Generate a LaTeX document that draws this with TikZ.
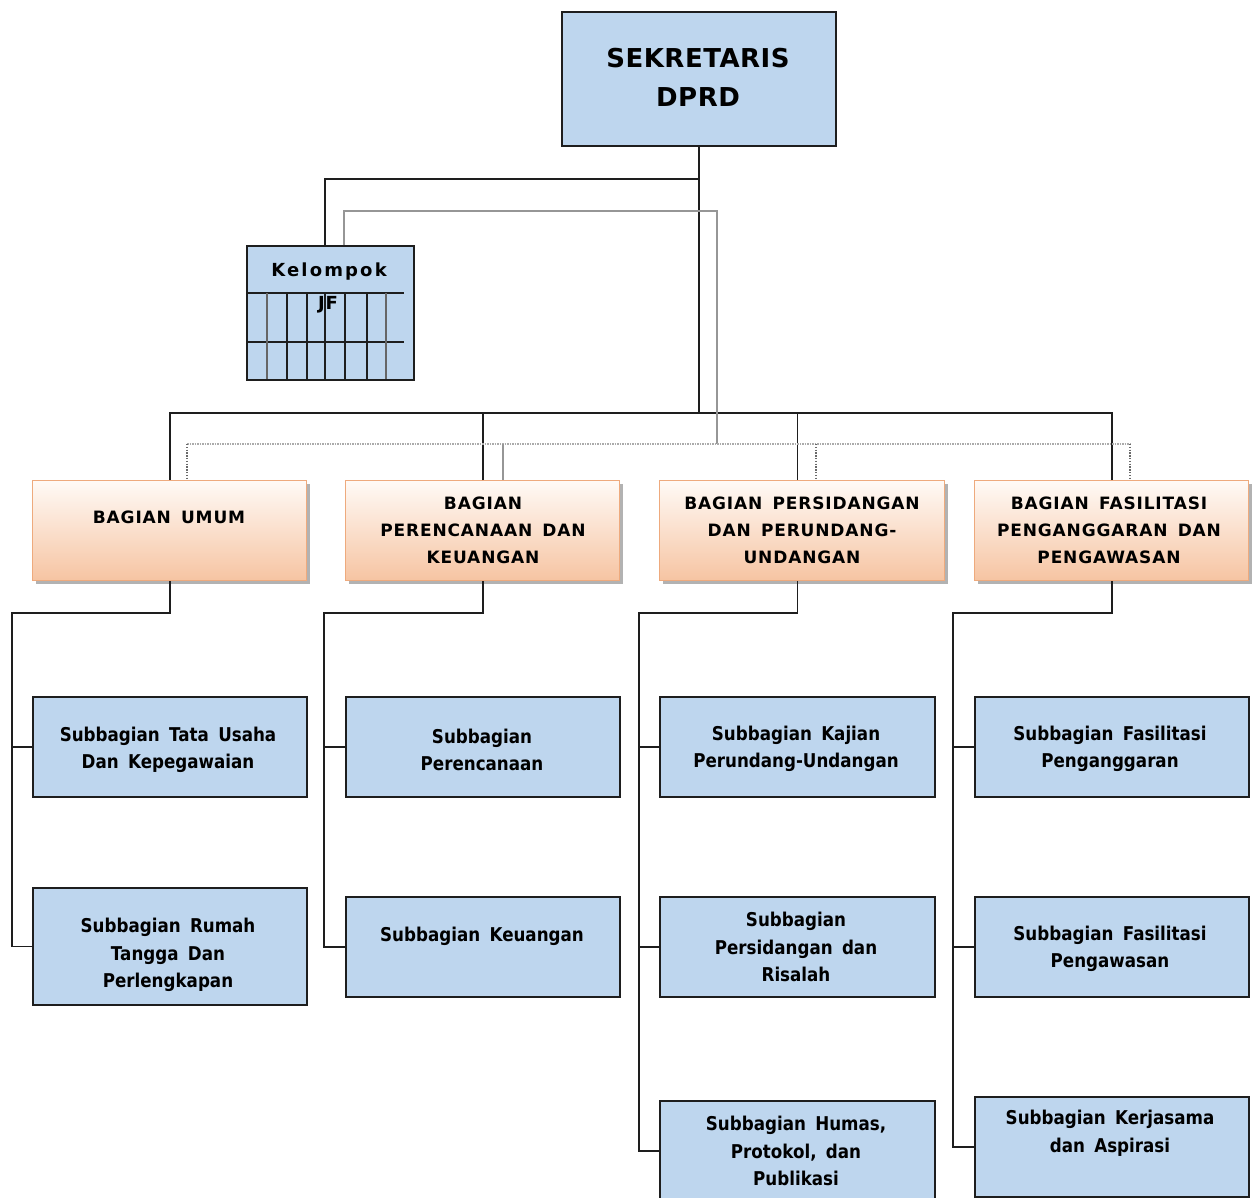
\documentclass[tikz,border=0pt]{standalone}
\usepackage{fontspec}
\setmainfont{DejaVu Sans}
\newfontfamily\headfont[LetterSpace=2]{DejaVu Sans}
\newfontfamily\bagfont[LetterSpace=5,WordSpace=1.5]{DejaVu Sans}
\newfontfamily\jffont[LetterSpace=12]{DejaVu Sans}
\newfontfamily\jfsmall[LetterSpace=4]{DejaVu Sans}
\newfontfamily\subfont[FakeStretch=0.88,WordSpace=1.6]{DejaVu Sans}
\usetikzlibrary{shadows}

\definecolor{boxblue}{RGB}{190,214,238}
\definecolor{peachtop}{RGB}{255,250,246}
\definecolor{peachbot}{RGB}{246,196,162}
\definecolor{peachline}{RGB}{238,170,125}
\definecolor{linedark}{RGB}{30,30,30}
\definecolor{linegray}{RGB}{150,150,150}

\begin{document}
\begin{tikzpicture}[x=1pt,y=-1pt,
  bluebox/.style={draw=linedark, line width=1.6pt, fill=boxblue, inner sep=0pt,
    anchor=north west, minimum width=274pt, minimum height=100pt},
  bagbox/.style={draw=peachline, line width=1.4pt, top color=peachtop,
    bottom color=peachbot, inner sep=0pt, anchor=north west,
    minimum width=274pt, minimum height=100pt,
    drop shadow={shadow xshift=3pt, shadow yshift=-3pt, fill=black!50, opacity=0.6}},
  sektxt/.style={font=\headfont\bfseries\fontsize{26}{39}\selectfont, align=center, inner sep=0pt},
  bagtxt/.style={font=\bagfont\bfseries\fontsize{17}{27}\selectfont, align=center, inner sep=0pt},
  jftxt/.style={font=\jffont\bfseries\fontsize{18}{20}\selectfont, inner sep=0pt},
  jfsmalltxt/.style={font=\jfsmall\bfseries\fontsize{18}{20}\selectfont, inner sep=0pt},
  subtxt/.style={font=\subfont\bfseries\fontsize{19}{27.5}\selectfont, align=center, inner sep=0pt},
  conn/.style={draw=linedark, line width=1.6pt},
  gline/.style={draw=linegray, line width=1.4pt},
  gdash/.style={draw=linegray!80, line width=1.8pt, dash pattern=on 1.5pt off 1pt},
  gdot/.style={draw=linegray!70!black, line width=1.5pt, dash pattern=on 1.4pt off 1.4pt},
  grid/.style={draw=linedark, line width=1.3pt},
  gridthick/.style={draw=black!60, line width=2.4pt}
]
\useasboundingbox (0,0) rectangle (1252,1197);
\fill[white] (0,0) rectangle (1252,1197);

% head of the secretariat
\node[bluebox, minimum height=134pt] (sek) at (561,11) {};
\node[sektxt] (sekt) at (698,77.5) {SEKRETARIS\\DPRD};

% functional group box with its grid
\node[bluebox, minimum width=167pt, minimum height=134pt] (jf) at (246,245) {};
\node[jftxt] (jfa) at (329,272) {Kelompok};
\node[jfsmalltxt] (jfb) at (328,305) {JF};
\draw[grid] (jf.west |- 0,293) -- (404,293);
\draw[grid] (jf.west |- 0,342) -- (404,342);
\foreach \gx in {287,307,325,345,367}
  \draw[grid] (\gx,293) -- (\gx,379);
\draw[gridthick] (267,293) -- (267,379);
\draw[gridthick] (386,293) -- (386,379);

% divisions
\node[bagbox] (b1) at (32,480) {};
\node[bagbox] (b2) at (345,480) {};
\node[bagbox, minimum width=285pt] (b3) at (659,480) {};
\node[bagbox] (b4) at (974,480) {};
\node[bagtxt] (b1t) at (169,517) {BAGIAN UMUM};
\node[bagtxt] (b2t) at (483,530) {BAGIAN\\PERENCANAAN DAN\\KEUANGAN};
\node[bagtxt] (b3t) at (802,530) {BAGIAN PERSIDANGAN\\DAN PERUNDANG-\\UNDANGAN};
\node[bagtxt] (b4t) at (1109,530) {BAGIAN FASILITASI\\PENGANGGARAN DAN\\PENGAWASAN};

% sub-divisions
\node[bluebox] (s11) at (32,696) {};
\node[bluebox, minimum height=117pt] (s12) at (32,887) {};
\node[bluebox] (s21) at (345,696) {};
\node[bluebox] (s22) at (345,896) {};
\node[bluebox, minimum width=275pt] (s31) at (659,696) {};
\node[bluebox, minimum width=275pt] (s32) at (659,896) {};
\node[bluebox, minimum width=275pt] (s33) at (659,1100) {};
\node[bluebox] (s41) at (974,696) {};
\node[bluebox] (s42) at (974,896) {};
\node[bluebox] (s43) at (974,1096) {};

\node[subtxt] (t11) at (168,750) {Subbagian Tata Usaha\\Dan Kepegawaian};
\node[subtxt] (t12) at (168,955) {Subbagian Rumah\\Tangga Dan\\Perlengkapan};
\node[subtxt] (t21) at (482,750) {Subbagian\\Perencanaan};
\node[subtxt] (t22) at (482,936) {Subbagian Keuangan};
\node[subtxt] (t31) at (796,749) {Subbagian Kajian\\Perundang-Undangan};
\node[subtxt] (t32) at (796,947) {Subbagian\\Persidangan dan\\Risalah};
\node[subtxt] (t33) at (796,1151) {Subbagian Humas,\\Protokol, dan\\Publikasi};
\node[subtxt] (t41) at (1110,749) {Subbagian Fasilitasi\\Penganggaran};
\node[subtxt] (t42) at (1110,949) {Subbagian Fasilitasi\\Pengawasan};
\node[subtxt] (t43) at (1110,1133) {Subbagian Kerjasama\\dan Aspirasi};

% command lines from the secretary
\coordinate (jk) at (325,179);
\coordinate (bus) at (698,413);
\draw[conn] (sek.south) |- (jk) -- (jk |- jf.north);
\draw[conn] (sek.south) -- (sek.south |- bus);
\draw[conn] (b1.north) |- (sek.south |- bus) -| (b4.north);
\draw[conn] (b2.north) -- (b2.north |- bus);
\draw[conn] (s31.north |- bus) -- (s31.north |- b3.north);

% coordination lines of the functional group
\coordinate (ga) at (344,211);
\coordinate (gb) at (717,444);
\coordinate (gl) at (187,444);
\coordinate (gr) at (1130,444);
\coordinate (g2) at (503,444);
\coordinate (g3) at (816,444);
\draw[gline] (ga |- jf.north) -- (ga) -| (gb);
\draw[gdash] (gl) -- (gr);
\draw[gdot] (gl) -- (gl |- b1.north);
\draw[gdot] (g3) -- (g3 |- b3.north);
\draw[gdot] (gr) -- (gr |- b4.north);
\draw[gline] (g2) -- (g2 |- b2.north);

% lines down to the sub-divisions
\coordinate (c1) at (12,613);
\coordinate (c2) at (324,613);
\coordinate (c3) at (639,613);
\coordinate (c4) at (953,613);
\draw[conn] (b1.south) |- (c1) |- (s12.west);
\draw[conn] (c1 |- s11.west) -- (s11.west);
\draw[conn] (b2.south) |- (c2) |- (s22.west);
\draw[conn] (c2 |- s21.west) -- (s21.west);
\draw[conn] (s31.north |- b3.south) |- (c3) |- (s33.west);
\draw[conn] (c3 |- s31.west) -- (s31.west);
\draw[conn] (c3 |- s32.west) -- (s32.west);
\draw[conn] (b4.south) |- (c4) |- (s43.west);
\draw[conn] (c4 |- s41.west) -- (s41.west);
\draw[conn] (c4 |- s42.west) -- (s42.west);
\end{tikzpicture}
\end{document}
